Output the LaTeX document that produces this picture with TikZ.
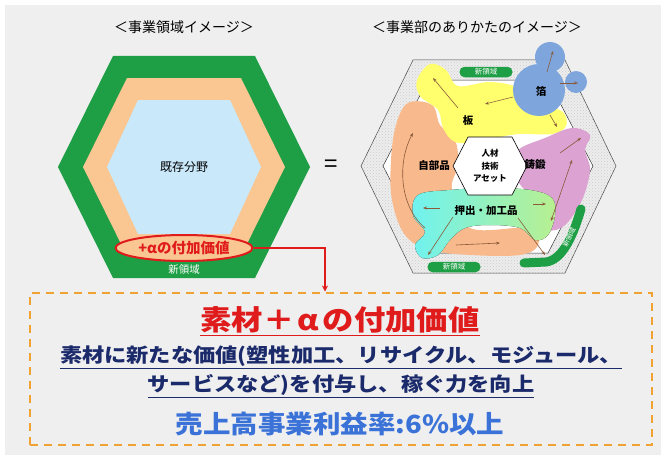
\documentclass[tikz,border=0pt]{standalone}
\usepackage{fontspec}
\setmainfont{Noto Sans CJK JP}
\usetikzlibrary{arrows.meta,patterns,shapes.geometric}
\definecolor{bggray}{HTML}{EFEFEF}
\definecolor{hexgreen}{HTML}{1E9E45}
\definecolor{peach}{HTML}{FAC793}
\definecolor{lblue}{HTML}{C9E8FA}
\definecolor{redc}{HTML}{E01B1B}
\definecolor{blueblob}{HTML}{7EA6DD}
\definecolor{yellowblob}{HTML}{FFFF6E}
\definecolor{orangeblob}{HTML}{F8B98C}
\definecolor{pinkblob}{HTML}{DCA2D2}
\definecolor{cyanblob}{HTML}{6FF2F0}
\definecolor{lgreenblob}{HTML}{B8F090}
\definecolor{arrowc}{HTML}{8A5A3A}
\definecolor{dashor}{HTML}{F0A232}
\definecolor{navy}{HTML}{1B2A6B}
\definecolor{bluetxt}{HTML}{3A72D8}
\tikzset{
  barr/.style={draw=arrowc,line width=0.6pt,-{Stealth[length=4pt,width=3pt]}},
  tag/.style={fill=hexgreen,rounded corners=5pt,minimum width=53pt,minimum height=10.5pt,inner sep=0pt,text=white,font=\fontsize{7.5}{8}\selectfont},
  blab/.style={font=\bfseries\fontsize{10.5}{11}\selectfont,text=black},
  title/.style={font=\fontsize{14}{15}\selectfont},
}
\begin{document}
\begin{tikzpicture}[x=1pt,y=-1pt]
\useasboundingbox (0,0) rectangle (666,460);
\fill[white] (0,0) rectangle (666,460);
\fill[bggray] (5,5) rectangle (661,455);

% titles
\node[title] (t1) at (184,27) {＜事業領域イメージ＞};
\node[title] (t2) at (477,27) {＜事業部のありかたのイメージ＞};

% left hexagon
\fill[hexgreen] (58,167) -- (113,56) -- (255,56) -- (310,167) -- (255,278) -- (113,278) -- cycle;
\fill[peach] (83,167) -- (127,78) -- (241,78) -- (285,167) -- (241,256) -- (127,256) -- cycle;
\fill[lblue] (107,167) -- (138,100) -- (230,100) -- (261,167) -- (230,234) -- (138,234) -- cycle;
\node[font=\fontsize{12}{13}\selectfont] (exist) at (184,167) {既存分野};
\node[text=white,font=\fontsize{10.5}{11}\selectfont] (newl) at (184,270) {新領域};
\node[ellipse,draw=redc,line width=2pt,fill=peach,minimum width=137pt,minimum height=26pt,inner sep=0pt,text=redc,font=\bfseries\fontsize{14.5}{15}\selectfont] (alpha) at (184,248) {+αの付加価値};

% equals
\node[font=\fontsize{24}{24}\selectfont] (eq) at (331,166) {=};

% right hexagon
\fill[gray!14] (361,166) -- (413,60) -- (565,60) -- (616,166) -- (565,273) -- (413,273) -- cycle;
\fill[pattern=crosshatch dots,pattern color=gray!40] (361,166) -- (413,60) -- (565,60) -- (616,166) -- (565,273) -- (413,273) -- cycle;
\draw[gray!60!black,line width=0.5pt] (361,166) -- (413,60) -- (565,60) -- (616,166) -- (565,273) -- (413,273) -- cycle;
\filldraw[fill=white,draw=gray!40!black,line width=0.5pt] (383,166) -- (428,80) -- (548,80) -- (593,166) -- (548,253) -- (428,253) -- cycle;

% blobs
\fill[orangeblob] plot[smooth cycle,tension=0.6] coordinates {(408,103) (432,105) (440,125) (455,140) (458,165) (452,190) (470,228) (530,228) (538,245) (520,255) (470,255) (430,250) (405,235) (392,200) (391,160) (396,125)};
\fill[yellowblob] plot[smooth cycle,tension=0.6] coordinates {(417,80) (430,64) (446,70) (458,86) (490,82) (520,88) (545,105) (563,112) (566,126) (552,134) (520,134) (500,137) (478,142) (455,142) (443,128) (438,110) (420,96)};
\fill[pinkblob] plot[smooth cycle,tension=0.6] coordinates {(518,150) (545,138) (572,128) (590,135) (585,150) (590,170) (582,200) (565,225) (548,230) (540,215) (547,195) (525,190) (513,168)};
\fill[left color=cyanblob,right color=lgreenblob] plot[smooth cycle,tension=0.6] coordinates {(418,195) (450,190) (490,188) (530,190) (552,198) (555,215) (548,235) (535,240) (520,228) (490,225) (465,228) (450,240) (438,255) (422,258) (415,245) (425,232) (413,215)};
\fill[blueblob] (539,90) circle (26) (550,57) circle (15) (576,82) circle (11);

% green new-area tags
\node[tag] (ntop) at (486,72) {新領域};
\node[tag] (nbot) at (454,267) {新領域};
\draw[hexgreen,line width=9pt,line cap=round] (524,263) -- (546,262) .. controls (561,260) and (572,240) .. (581,209);
\node[text=white,rotate=64,font=\fontsize{7}{7}\selectfont,inner sep=0pt] (nright) at (569,237) {新領域};

% centre hexagon
\filldraw[fill=white,draw=black,line width=0.6pt] (453,166) -- (468,137) -- (512,137) -- (527,166) -- (512,195) -- (468,195) -- cycle;
\node[align=center,font=\bfseries\fontsize{8.5}{12.5}\selectfont] (core) at (490,166) {人材\\技術\\アセット};

% blob labels
\node[blab] (foil) at (541,91) {箔};
\node[blab] (plate) at (468,121) {板};
\node[blab] (parts) at (434,166) {自部品};
\node[blab] (cast) at (535,164) {鋳鍛};
\node[blab] (ext) at (486,211) {押出・加工品};

% arrows
\draw[barr] (547,72) -- (553,51);
\draw[barr] (560,83) -- (578,83);
\draw[barr] (513,97) -- (485,104);
\draw[barr] (550,115) -- (557,127);
\draw[barr] (458,108) -- (433,78);
\draw[barr] (425,228) .. controls (398,205) and (398,160) .. (413,133);
\draw[barr] (456,245) -- (500,243);
\draw[barr] (440,208) -- (423,208);
\draw[barr] (533,204) -- (546,204);
\draw[barr] (453,217) -- (428,255);
\draw[barr] (518,218) -- (545,255);
\draw[barr] (560,153) -- (581,138);
\draw[barr,{Stealth[length=4pt,width=3pt]}-{Stealth[length=4pt,width=3pt]}] (551,221) -- (572,160);

% bottom box
\node[draw=dashor,line width=2pt,dash pattern=on 8pt off 6pt,minimum width=622pt,minimum height=152pt,inner sep=0pt] (box) at (341,368.5) {};
\coordinate (bend) at (325,248);
\draw[redc,line width=1.5pt,-{Stealth[length=6pt,width=6pt]}] (alpha.east) -- (bend) -- (bend |- box.north);

\node[text=redc,font=\bfseries\fontsize{28}{30}\selectfont] (h1) at (340,321) {\scalebox{1.12}[1]{\underline{素材＋\hspace{3pt}α\hspace{3pt}の付加価値}}};
\node[text=navy,font=\bfseries\fontsize{19.5}{20}\selectfont] (h2) at (341,357) {\scalebox{1.14}[1]{\underline{素材に新たな価値(塑性加工、リサイクル、モジュール、}}};
\node[text=navy,font=\bfseries\fontsize{19.5}{20}\selectfont] (h3) at (341,386) {\scalebox{1.14}[1]{\underline{サービスなど)を付与し、稼ぐ力を向上}}};
\node[text=bluetxt,font=\bfseries\fontsize{25}{26}\selectfont] (h4) at (340,424) {\scalebox{1.1}[1]{売上高事業利益率:6\%以上}};
\end{tikzpicture}
\end{document}
